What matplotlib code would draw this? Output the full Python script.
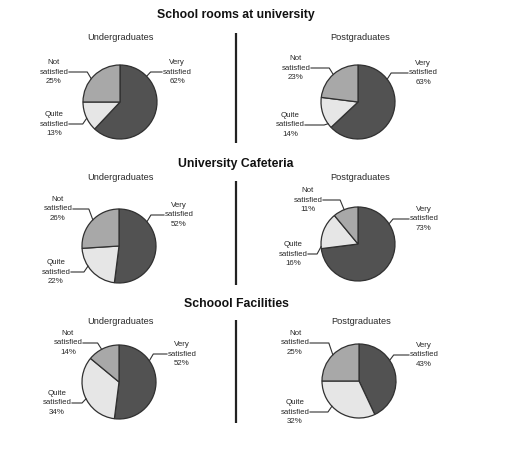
import numpy as np
import matplotlib
matplotlib.use("Agg")
import matplotlib.pyplot as plt

# ---- data ----
section_titles = ["School rooms at university", "University Cafeteria", "Schoool Facilities"]
group_titles = ["Undergraduates", "Postgraduates"]
categories = ["Very satisfied", "Quite satisfied", "Not satisfied"]
label_text = ["Very\nsatisfied", "Quite\nsatisfied", "Not\nsatisfied"]
rooms_under = [62, 13, 25]
rooms_post = [63, 14, 23]
cafe_under = [52, 22, 26]
cafe_post = [73, 16, 11]
facil_under = [52, 34, 14]
facil_post = [43, 32, 25]

values = [[rooms_under, rooms_post], [cafe_under, cafe_post], [facil_under, facil_post]]
colors = ["#525252", "#e6e6e6", "#a8a8a8"]

W, H = 512, 466
fig = plt.figure(figsize=(W / 100, H / 100), dpi=100)
ax = fig.add_axes([0, 0, 1, 1])

# ---- layout (pixel coords, y downward) ----
pie_centers = [[(120, 102), (358, 102)], [(119, 246), (358, 244)], [(119, 382), (359, 381)]]
R = 37
title_y = [15, 164, 304]
sub_y = [38, 178, 321]
divider = [(33, 143), (181, 285), (320, 423)]
# per pie, per category: text centre (x, y), attach angle (deg, ccw from east)
label_layout = [
    [
        [((177, 72), 44), ((54, 124), 206), ((54, 72), 141)],
        [((423, 73), 38), ((290, 125), 216), ((296, 68), 132)],
    ],
    [
        [((179, 215), 41), ((56, 272), 213), ((58, 209), 135)],
        [((424, 219), 33), ((293, 254), 184), ((308, 200), 112)],
    ],
    [
        [((182, 354), 35), ((57, 403), 207), ((68, 343), 118)],
        [((424, 355), 34), ((295, 412), 223), ((295, 343), 135)],
    ],
]

txt_color = "#2a2a2a"
for r in range(3):
    ax.text(236, title_y[r], section_titles[r], ha="center", va="center",
            fontsize=8.8, fontweight="bold", family="Liberation Sans", color="#111111")
    ax.plot([236, 236], divider[r], color="#222222", lw=1.6, solid_capstyle="butt")
    for c in range(2):
        cx, cy = pie_centers[r][c]
        ax.text(cx + (1 if c == 0 else 2), sub_y[r], group_titles[c], ha="center", va="center",
                fontsize=6.7, family="Liberation Sans", color=txt_color)
        vals = values[r][c]
        # y axis points down, so counterclock=True appears clockwise on screen
        ax.pie(vals, colors=colors, startangle=-90, counterclock=True,
               center=(cx, cy), radius=R, frame=True,
               wedgeprops=dict(edgecolor="#303030", linewidth=0.9))
        for k in range(3):
            (tx, ty), ang = label_layout[r][c][k]
            a = np.deg2rad(ang)
            px = cx + R * np.cos(a)
            py = cy - R * np.sin(a)
            side = 1 if tx > cx else -1
            ex = px + side * 4
            ey = ty
            hx = tx - side * 15
            ax.plot([px, ex, hx], [py, ey, ey], color="#333333", lw=0.8)
            ax.text(tx, ty, f"{label_text[k]}\n{vals[k]}%", ha="center", va="center",
                    fontsize=5.7, family="Liberation Sans", color=txt_color, linespacing=1.45)

ax.set_xlim(0, W)
ax.set_ylim(H, 0)
ax.set_aspect("auto")
ax.axis("off")
fig.savefig("out.png", dpi=100, facecolor="white")
